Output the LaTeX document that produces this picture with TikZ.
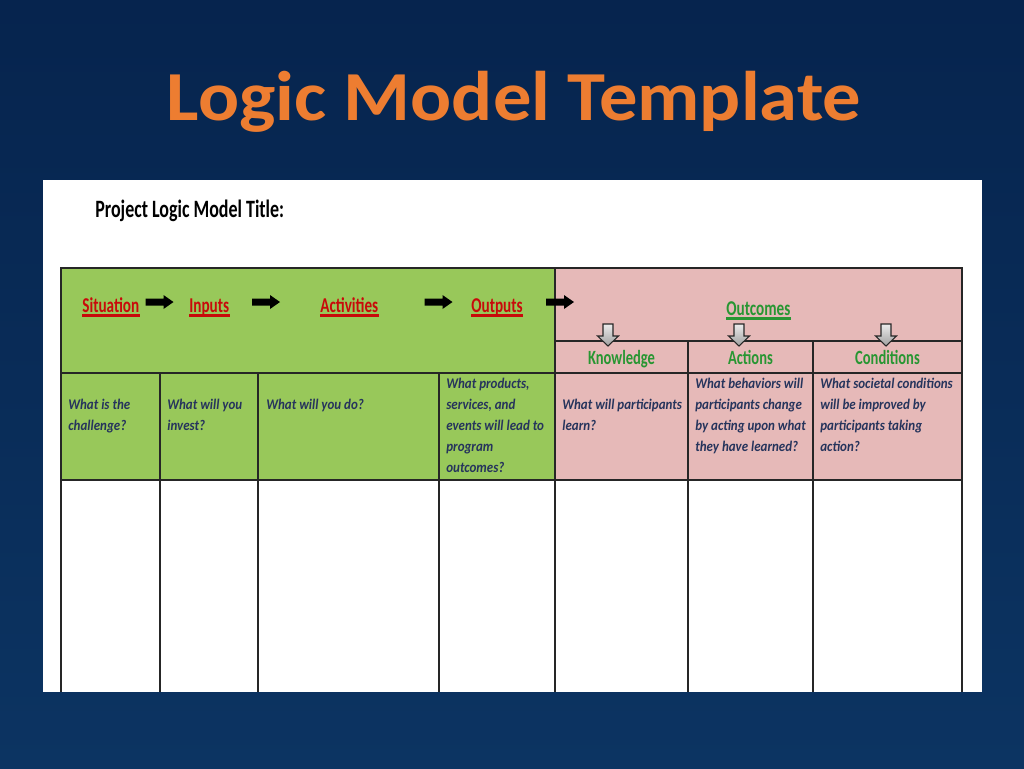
\documentclass[tikz,border=0pt]{standalone}
\usepackage{fontspec}
\setmainfont{Carlito}
\newfontfamily\headfont[FakeStretch=1.09]{Carlito}
\newfontfamily\hdrfont[FakeStretch=0.72]{Carlito}
\newfontfamily\askfont[FakeStretch=0.88]{Carlito}
\usepackage{xcolor}
\usetikzlibrary{
    positioning
}

\definecolor{slidetop}{RGB}{6,36,78}
\definecolor{slidebot}{RGB}{12,52,98}
\definecolor{titleorange}{RGB}{237,125,49}
\definecolor{cellgreen}{RGB}{152,200,90}
\definecolor{cellpink}{RGB}{230,185,184}
\definecolor{hdrred}{RGB}{200,10,10}
\definecolor{hdrgreen}{RGB}{40,150,50}
\definecolor{asknavy}{RGB}{38,52,92}

\tikzset{
    hdr/.style={font=\hdrfont\bfseries\fontsize{12}{14}\selectfont, text=#1,
        inner xsep=0pt, inner ysep=1.8pt, text depth=0pt, anchor=base west,
        append after command={(\tikzlastnode.south west) edge[draw=#1, line width=1.3pt] (\tikzlastnode.south east)}},
    sub/.style={font=\hdrfont\bfseries\fontsize{11.5}{13}\selectfont, text=hdrgreen, inner sep=0pt, anchor=base},
    ask/.style={font=\askfont\bfseries\itshape\fontsize{8.4}{11.9}\selectfont, text=asknavy,
        inner sep=0pt, anchor=north west, align=left},
    grid/.style={draw=black!85, line width=0.9pt},
    blkarrow/.pic={
        \fill[black] (-14, -3.5) -- (4, -3.5) -- (4, -7) -- (14, 0) -- (4, 7) -- (4, 3.5) -- (-14, 3.5) -- cycle;
    },
    downarrow/.pic={
        \draw[draw=black!85, line width=0.6pt, top color=gray!15, bottom color=gray!75]
            (-5, -11) -- (5, -11) -- (5, 1) -- (10.5, 1) -- (0, 11) -- (-10.5, 1) -- (-5, 1) -- cycle;
    }
}

\begin{document}
\begin{tikzpicture}[x=0.02cm, y=-0.02cm]
    \useasboundingbox (0, 0) rectangle (1024, 768);
    \shade[top color=slidetop, bottom color=slidebot] (0, 0) rectangle (1024, 768);

    \node[font=\headfont\bfseries\fontsize{40}{44}\selectfont, text=titleorange, anchor=base] (title) at (514, 120) {Logic Model Template};

    \fill[white] (43, 180) rectangle (982, 692);
    \node[font=\hdrfont\bfseries\fontsize{14.2}{16}\selectfont, anchor=base west, inner sep=0pt] (name) at (95, 217) {Project Logic Model Title:};

    \fill[cellgreen] (61, 268) rectangle (555, 480);
    \fill[cellpink] (555, 268) rectangle (962, 480);

    \draw[grid] (61, 692) -- (61, 268) -- (962, 268) -- (962, 692);
    \draw[grid] (61, 373) -- (962, 373);
    \draw[grid] (61, 480) -- (962, 480);
    \draw[grid] (555, 341) -- (962, 341);
    \draw[grid] (555, 268) -- (555, 692);
    \foreach \colx in {160, 258, 439}
        \draw[grid] (\colx, 373) -- (\colx, 692);
    \foreach \colx in {688, 813}
        \draw[grid] (\colx, 341) -- (\colx, 692);

    \node[hdr=hdrred] (sit) at (82, 312) {Situation};
    \node[hdr=hdrred] (inp) at (189, 312) {Inputs};
    \node[hdr=hdrred] (act) at (320, 312) {Activities};
    \node[hdr=hdrred] (outp) at (471, 312) {Outputs};
    \node[hdr=hdrgreen] (outc) at (726, 315) {Outcomes};

    \foreach \ax in {159.5, 266, 438.5, 560}
        \pic at (\ax, 302) {blkarrow};

    \foreach \ax in {608, 739, 886}
        \pic at (\ax, 335) {downarrow};

    \node[sub] (know) at (621.5, 364) {Knowledge};
    \node[sub] (acts) at (750.5, 364) {Actions};
    \node[sub] (cond) at (887.5, 364) {Conditions};

    \node[ask] (q1) at (68, 399) {What is the\\challenge?};
    \node[ask] (q2) at (167, 399) {What will you\\invest?};
    \node[ask] (q3) at (266, 399) {What will you do?};
    \node[ask] (q4) at (446, 378) {What products,\\services, and\\events will lead to\\program\\outcomes?};
    \node[ask] (q5) at (562, 399) {What will participants\\learn?};
    \node[ask] (q6) at (695, 378) {What behaviors will\\participants change\\by acting upon what\\they have learned?};
    \node[ask] (q7) at (820, 378) {What societal conditions\\will be improved by\\participants taking\\action?};
\end{tikzpicture}
\end{document}
